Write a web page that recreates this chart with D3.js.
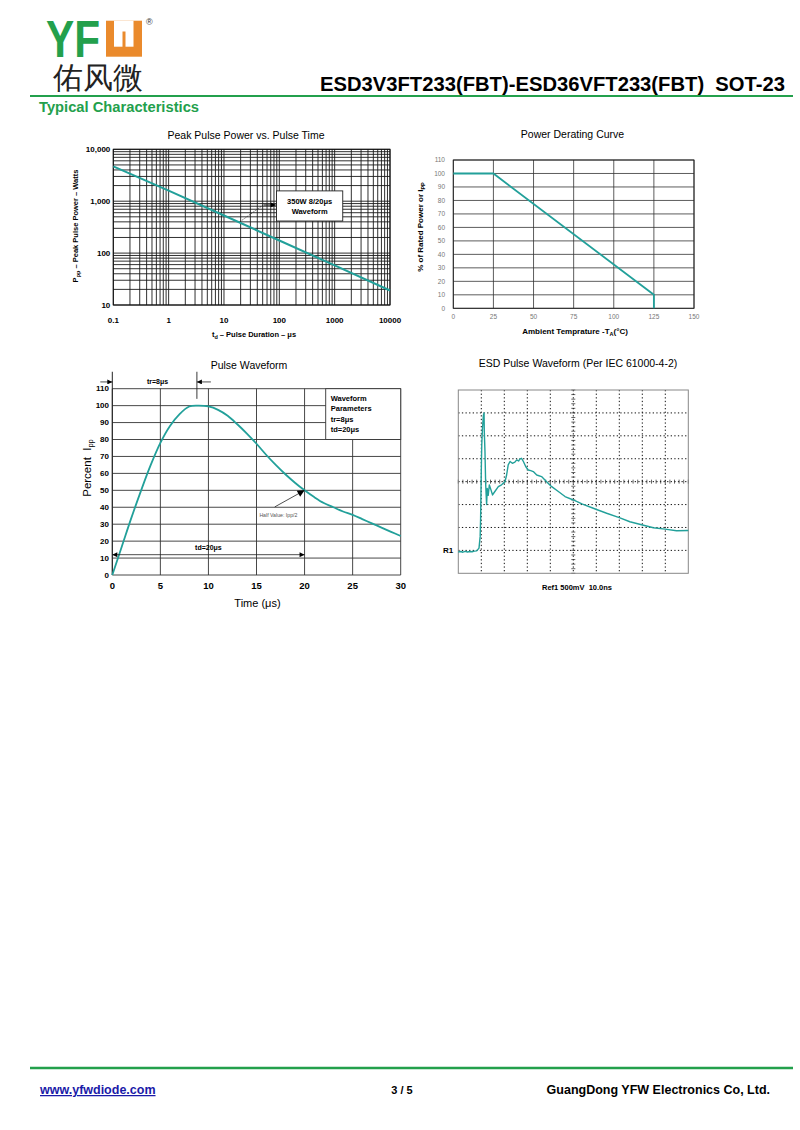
<!DOCTYPE html>
<html>
<head>
<meta charset="utf-8">
<script src="https://cdn.jsdelivr.net/npm/d3@7"></script>
<style>
body { margin: 0; background: #fff; }
svg { display: block; }
text { font-family: "Liberation Sans", Arial, sans-serif; }
</style>
</head>
<body>
<svg id="page" width="800" height="1130"></svg>
<script>
// ---- data ----
// chart 1: peak pulse power vs pulse time (log-log)
const ppTime = [0.1, 1, 10, 100, 1000, 10000];
const ppPower = [4700, 1600, 530, 175, 58, 19];
const ppXTicks = [0.1, 1, 10, 100, 1000, 10000];
const ppXLabels = ["0.1", "1", "10", "100", "1000", "10000"];
const ppYTicks = [10, 100, 1000, 10000];
const ppYLabels = ["10", "100", "1,000", "10,000"];
const ppNoteBox = [89, 1400, 1580, 415];        // x0, x1, yTop, yBottom (data units)
const ppNoteArrow = [[19.5, 403], [51, 845]];  // dashed leader
const ppNoteHead = [[52, 845], [86, 845]];

// chart 2: power derating
const derTemp = [0, 25, 125, 125];
const derPct = [100, 100, 10, 0];
const derXTicks = [0, 25, 50, 75, 100, 125, 150];
const derYTicks = [0, 10, 20, 30, 40, 50, 60, 70, 80, 90, 100, 110];

// chart 3: 8/20us pulse waveform
const pwTime = [0, 1, 2, 3, 4, 5, 6, 7, 8, 9, 10, 11, 12, 13, 14, 15, 16, 17, 18, 19, 20,
                21, 22, 23, 24, 25, 26, 27, 28, 29, 30];
const pwPct = [0, 17, 34, 50, 65, 78, 88, 95, 99.5, 100, 99.5, 97.5, 94, 89, 83.5, 77.5, 71, 65, 59.5, 54.5, 50,
               46, 42.5, 40, 37.5, 35.5, 33, 30.5, 28, 25.5, 23];
const pwXTicks = [0, 5, 10, 15, 20, 25, 30];
const pwYTicks = [0, 10, 20, 30, 40, 50, 60, 70, 80, 90, 100, 110];
const pwLegend = ["Waveform", "Parameters", "tr=8μs", "td=20μs"];
const pwLegendBox = [22.2, 30, 110, 80];

// chart 4: ESD pulse scope trace (divisions)
const esdX = [0, 0.1, 0.2, 0.3, 0.4, 0.5, 0.6, 0.7, 0.8, 0.9, 0.95, 0.97, 1.0, 1.02, 1.05, 1.09, 1.12, 1.13,
              1.16, 1.19, 1.23, 1.26, 1.3, 1.35, 1.42, 1.49, 1.59, 1.74, 1.88, 2.03, 2.1, 2.17, 2.25, 2.35,
              2.46, 2.54, 2.62, 2.68, 2.75, 2.83, 2.93, 3.04, 3.15, 3.26, 3.41, 3.62, 3.84, 4.06, 4.35,
              4.64, 5.0, 5.4, 5.87, 6.45, 7.0, 7.46, 8.01, 8.48, 8.99, 9.49, 10];
const esdY = [0.93, 0.95, 0.92, 0.96, 0.93, 0.95, 0.94, 0.97, 0.98, 1.1, 1.6, 2.4, 4.5, 5.6, 6.3, 6.9, 7.0, 6.2,
              5.3, 3.9, 3.0, 3.7, 3.4, 3.86, 3.64, 3.42, 3.57, 3.78, 3.86, 4.0, 4.29, 4.73, 4.88, 4.8,
              4.85, 4.95, 4.9, 4.99, 5.02, 4.88, 4.66, 4.51, 4.48, 4.44, 4.29, 4.22, 4.0, 3.78, 3.57,
              3.35, 3.2, 3.02, 2.84, 2.62, 2.43, 2.25, 2.11, 1.99, 1.93, 1.86, 1.87];
const esdXDivs = [0, 1, 2, 3, 4, 5, 6, 7, 8, 9, 10];
const esdYDivs = [0, 1, 2, 3, 4, 5, 6, 7, 8];

// ---- page ----
const svg = d3.select("#page");
const teal = "#22a09a", green = "#23a04c", orange = "#ea8a2c";

svg.append("rect").attr("width", 800).attr("height", 1130).attr("fill", "#fff");

const defs = svg.append("defs");
function arrowMarker(id, w, h) {
    defs.append("marker")
        .attr("id", id)
        .attr("viewBox", "0 0 10 10")
        .attr("refX", 10).attr("refY", 5)
        .attr("markerUnits", "userSpaceOnUse")
        .attr("markerWidth", w).attr("markerHeight", h)
        .attr("orient", "auto-start-reverse")
        .append("path").attr("d", "M0,0L10,5L0,10z").attr("fill", "#000");
}
arrowMarker("head", 7, 5);
arrowMarker("headBig", 9, 7);

// header
svg.append("text").attr("x", 46).attr("y", 57)
    .attr("font-size", 52).attr("font-weight", "bold").attr("fill", green)
    .attr("textLength", 54).attr("lengthAdjust", "spacingAndGlyphs")
    .text("YF");
svg.append("rect").attr("x", 106).attr("y", 20.7).attr("width", 36).attr("height", 36).attr("fill", orange);
svg.append("rect").attr("x", 114).attr("y", 20.7).attr("width", 19.5).attr("height", 26).attr("fill", "#fff");
svg.append("rect").attr("x", 122.5).attr("y", 31.5).attr("width", 3).attr("height", 15.5).attr("fill", orange);
svg.append("text").attr("x", 146).attr("y", 25).attr("font-size", 9).attr("fill", "#333").text("®");
svg.append("text").attr("x", 53).attr("y", 88)
    .attr("font-family", "'Noto Sans CJK SC'").attr("font-size", 30).attr("font-weight", 500)
    .attr("fill", "#222").text("佑风微");

svg.append("text").attr("x", 785).attr("y", 90.5)
    .attr("text-anchor", "end").attr("font-size", 19.5).attr("font-weight", "bold")
    .attr("xml:space", "preserve")
    .attr("textLength", 465).attr("lengthAdjust", "spacingAndGlyphs")
    .text("ESD3V3FT233(FBT)-ESD36VFT233(FBT)  SOT-23");
svg.append("line").attr("x1", 30).attr("x2", 793).attr("y1", 96).attr("y2", 96)
    .attr("stroke", green).attr("stroke-width", 2);
svg.append("text").attr("x", 39).attr("y", 111.5)
    .attr("font-size", 14.5).attr("font-weight", "bold").attr("fill", green)
    .attr("textLength", 160).attr("lengthAdjust", "spacingAndGlyphs")
    .text("Typical Characteristics");

// ---- chart 1 ----
const c1 = {left: 113.3, right: 390, top: 149.3, bottom: 305};
const x1 = d3.scaleLog().domain([0.1, 10000]).range([c1.left, c1.right]);
const y1 = d3.scaleLog().domain([10, 10000]).range([c1.bottom, c1.top]);
const g1 = svg.append("g");

g1.selectAll(".vg").data(x1.ticks()).join("line")
    .attr("x1", d => x1(d)).attr("x2", d => x1(d))
    .attr("y1", c1.top).attr("y2", c1.bottom)
    .attr("stroke", "#1a1a1a").attr("stroke-width", 0.9);
g1.selectAll(".hg").data(y1.ticks()).join("line")
    .attr("x1", c1.left).attr("x2", c1.right)
    .attr("y1", d => y1(d)).attr("y2", d => y1(d))
    .attr("stroke", "#1a1a1a").attr("stroke-width", 0.9);
g1.append("rect").attr("x", c1.left).attr("y", c1.top)
    .attr("width", c1.right - c1.left).attr("height", c1.bottom - c1.top)
    .attr("fill", "none").attr("stroke", "#111").attr("stroke-width", 1);

g1.append("path")
    .datum(ppTime.map((t, i) => [t, ppPower[i]]))
    .attr("d", d3.line().x(d => x1(d[0])).y(d => y1(d[1])))
    .attr("fill", "none").attr("stroke", teal).attr("stroke-width", 2);

g1.selectAll(".xl").data(ppXTicks).join("text")
    .attr("x", d => x1(d)).attr("y", 322.5)
    .attr("text-anchor", "middle").attr("font-size", 8).attr("font-weight", "bold")
    .text((d, i) => ppXLabels[i]);
g1.selectAll(".yl").data(ppYTicks).join("text")
    .attr("x", c1.left - 3).attr("y", d => y1(d) + 3)
    .attr("text-anchor", "end").attr("font-size", 8).attr("font-weight", "bold")
    .text((d, i) => ppYLabels[i]);

// note box + leader
g1.append("rect")
    .attr("x", x1(ppNoteBox[0])).attr("y", y1(ppNoteBox[2]))
    .attr("width", x1(ppNoteBox[1]) - x1(ppNoteBox[0]))
    .attr("height", y1(ppNoteBox[3]) - y1(ppNoteBox[2]))
    .attr("fill", "#fff").attr("stroke", "#222").attr("stroke-width", 0.9);
const noteCx = (x1(ppNoteBox[0]) + x1(ppNoteBox[1])) / 2;
g1.append("text").attr("x", noteCx).attr("y", 203.5).attr("text-anchor", "middle")
    .attr("font-size", 7.5).attr("font-weight", "bold").text("350W 8/20μs");
g1.append("text").attr("x", noteCx).attr("y", 213.5).attr("text-anchor", "middle")
    .attr("font-size", 7.5).attr("font-weight", "bold").text("Waveform");
g1.append("line")
    .attr("x1", x1(ppNoteArrow[0][0])).attr("y1", y1(ppNoteArrow[0][1]))
    .attr("x2", x1(ppNoteArrow[1][0])).attr("y2", y1(ppNoteArrow[1][1]))
    .attr("stroke", "#222").attr("stroke-width", 0.7).attr("stroke-dasharray", "1.5,1.2");
g1.append("line")
    .attr("x1", x1(ppNoteHead[0][0])).attr("y1", y1(ppNoteHead[0][1]))
    .attr("x2", x1(ppNoteHead[1][0])).attr("y2", y1(ppNoteHead[1][1]))
    .attr("stroke", "#111").attr("stroke-width", 1).attr("marker-end", "url(#head)");

svg.append("text").attr("x", 246).attr("y", 138.5).attr("text-anchor", "middle")
    .attr("font-size", 10.5).text("Peak Pulse Power vs. Pulse Time");
const xt1 = svg.append("text").attr("x", 254).attr("y", 337).attr("text-anchor", "middle")
    .attr("font-size", 7.5).attr("font-weight", "bold");
xt1.append("tspan").text("t");
xt1.append("tspan").attr("font-size", 5.5).attr("dy", 1.5).text("d");
xt1.append("tspan").attr("dy", -1.5).text(" – Pulse Duration – μs");
const yt1 = svg.append("text").attr("transform", "translate(78,226) rotate(-90)")
    .attr("text-anchor", "middle").attr("font-size", 7.5).attr("font-weight", "bold");
yt1.append("tspan").text("P");
yt1.append("tspan").attr("font-size", 5.5).attr("dy", 1.5).text("pp");
yt1.append("tspan").attr("dy", -1.5).text(" – Peak Pulse Power – Watts");

// ---- chart 2 ----
const c2 = {left: 453.3, right: 694, top: 160, bottom: 308.3};
const x2 = d3.scaleLinear().domain([0, 150]).range([c2.left, c2.right]);
const y2 = d3.scaleLinear().domain([0, 110]).range([c2.bottom, c2.top]);
const g2 = svg.append("g");

g2.selectAll(".vg").data(derXTicks).join("line")
    .attr("x1", d => x2(d)).attr("x2", d => x2(d))
    .attr("y1", c2.top).attr("y2", c2.bottom)
    .attr("stroke", "#333").attr("stroke-width", 0.8);
g2.selectAll(".hg").data(derYTicks).join("line")
    .attr("x1", c2.left).attr("x2", c2.right)
    .attr("y1", d => y2(d)).attr("y2", d => y2(d))
    .attr("stroke", "#333").attr("stroke-width", 0.8);
g2.append("rect").attr("x", c2.left).attr("y", c2.top)
    .attr("width", c2.right - c2.left).attr("height", c2.bottom - c2.top)
    .attr("fill", "none").attr("stroke", "#222").attr("stroke-width", 0.9);

g2.append("path")
    .datum(derTemp.map((t, i) => [t, derPct[i]]))
    .attr("d", d3.line().x(d => x2(d[0])).y(d => y2(d[1])))
    .attr("fill", "none").attr("stroke", teal).attr("stroke-width", 1.8);

g2.selectAll(".xl").data(derXTicks).join("text")
    .attr("x", d => x2(d)).attr("y", 319)
    .attr("text-anchor", "middle").attr("font-size", 6.5).attr("fill", "#777")
    .text(d => d);
g2.selectAll(".yl").data(derYTicks).join("text")
    .attr("x", 445).attr("y", d => y2(d) + 2.3)
    .attr("text-anchor", "end").attr("font-size", 6.5).attr("fill", "#777")
    .text(d => d);

svg.append("text").attr("x", 572.5).attr("y", 138).attr("text-anchor", "middle")
    .attr("font-size", 10.5).text("Power Derating Curve");
const xt2 = svg.append("text").attr("x", 575).attr("y", 334).attr("text-anchor", "middle")
    .attr("font-size", 8).attr("font-weight", "bold");
xt2.append("tspan").text("Ambient Temprature -T");
xt2.append("tspan").attr("font-size", 5.5).attr("dy", 1.5).text("A");
xt2.append("tspan").attr("dy", -1.5).text("(°C)");
const yt2 = svg.append("text").attr("transform", "translate(423,227) rotate(-90)")
    .attr("text-anchor", "middle").attr("font-size", 8).attr("font-weight", "bold");
yt2.append("tspan").text("% of Rated Power or I");
yt2.append("tspan").attr("font-size", 5.5).attr("dy", 1.5).text("PP");

// ---- chart 3 ----
const c3 = {left: 112.3, right: 400.7, top: 388.7, bottom: 575};
const x3 = d3.scaleLinear().domain([0, 30]).range([c3.left, c3.right]);
const y3 = d3.scaleLinear().domain([0, 110]).range([c3.bottom, c3.top]);
const g3 = svg.append("g");
const serif = "'Liberation Serif', 'Times New Roman', serif";

g3.selectAll(".hg").data(pwYTicks).join("line")
    .attr("x1", c3.left).attr("x2", c3.right)
    .attr("y1", d => y3(d)).attr("y2", d => y3(d))
    .attr("stroke", "#333").attr("stroke-width", 0.9);
g3.selectAll(".vg").data(pwXTicks).join("line")
    .attr("x1", d => x3(d)).attr("x2", d => x3(d))
    .attr("y1", c3.top).attr("y2", c3.bottom)
    .attr("stroke", "#333").attr("stroke-width", 0.9);
// y axis reaches up to the tr marker
g3.append("line").attr("x1", x3(0)).attr("x2", x3(0)).attr("y1", y3(120)).attr("y2", c3.bottom)
    .attr("stroke", "#222").attr("stroke-width", 1);

// legend box
g3.append("rect")
    .attr("x", x3(pwLegendBox[0])).attr("y", y3(pwLegendBox[2]))
    .attr("width", x3(pwLegendBox[1]) - x3(pwLegendBox[0]))
    .attr("height", y3(pwLegendBox[3]) - y3(pwLegendBox[2]))
    .attr("fill", "#fff").attr("stroke", "#333").attr("stroke-width", 0.9);
g3.selectAll(".lg").data(pwLegend).join("text")
    .attr("x", x3(pwLegendBox[0]) + 5).attr("y", (d, i) => 401 + i * 10.3)
    .attr("font-family", serif).attr("font-size", 7.5).attr("font-weight", "bold")
    .text(d => d);

g3.append("path")
    .datum(pwTime.map((t, i) => [t, pwPct[i]]))
    .attr("d", d3.line().x(d => x3(d[0])).y(d => y3(d[1])).curve(d3.curveCatmullRom.alpha(0.5)))
    .attr("fill", "none").attr("stroke", teal).attr("stroke-width", 1.8);

g3.selectAll(".xl").data(pwXTicks).join("text")
    .attr("x", d => x3(d)).attr("y", 589)
    .attr("text-anchor", "middle").attr("font-family", "'DejaVu Serif', serif")
    .attr("font-size", 9.5).attr("font-weight", "bold")
    .text(d => d);
g3.selectAll(".yl").data(pwYTicks).join("text")
    .attr("x", 109).attr("y", d => y3(d) + 2.7)
    .attr("text-anchor", "end").attr("font-family", serif)
    .attr("font-size", 8).attr("font-weight", "bold")
    .text(d => d);

// tr annotation
g3.append("line").attr("x1", x3(8.8)).attr("x2", x3(8.8)).attr("y1", y3(120)).attr("y2", y3(104))
    .attr("stroke", "#222").attr("stroke-width", 0.9);
g3.append("line").attr("x1", x3(0) - 12).attr("x2", x3(0)).attr("y1", y3(114)).attr("y2", y3(114))
    .attr("stroke", "#222").attr("stroke-width", 0.8).attr("marker-end", "url(#head)");
g3.append("line").attr("x1", x3(8.8) + 14).attr("x2", x3(8.8)).attr("y1", y3(114)).attr("y2", y3(114))
    .attr("stroke", "#222").attr("stroke-width", 0.8).attr("marker-end", "url(#head)");
g3.append("text").attr("x", 157.5).attr("y", y3(114) + 2.5).attr("text-anchor", "middle")
    .attr("font-family", serif).attr("font-size", 7).attr("font-weight", "bold").text("tr=8μs");

// td annotation
g3.append("line").attr("x1", x3(0)).attr("x2", x3(20)).attr("y1", y3(12)).attr("y2", y3(12))
    .attr("stroke", "#222").attr("stroke-width", 0.8)
    .attr("marker-start", "url(#head)").attr("marker-end", "url(#head)");
g3.append("text").attr("x", x3(10)).attr("y", y3(14.5)).attr("text-anchor", "middle")
    .attr("font-family", serif).attr("font-size", 7).attr("font-weight", "bold").text("td=20μs");

// half value annotation
g3.append("line").attr("x1", x3(16.9)).attr("y1", y3(40.2)).attr("x2", x3(20)).attr("y2", y3(50))
    .attr("stroke", "#222").attr("stroke-width", 0.8).attr("marker-end", "url(#headBig)");
g3.append("text").attr("x", x3(15.3)).attr("y", y3(34.5))
    .attr("font-family", serif).attr("font-size", 5.2).attr("fill", "#555").text("Half Value: Ipp/2");

svg.append("text").attr("x", 249).attr("y", 369).attr("text-anchor", "middle")
    .attr("font-size", 10.5).text("Pulse Waveform");
svg.append("text").attr("x", 257.5).attr("y", 607).attr("text-anchor", "middle")
    .attr("font-size", 11).text("Time (μs)");
const yt3 = svg.append("text").attr("transform", "translate(91,468) rotate(-90)")
    .attr("text-anchor", "middle").attr("font-size", 11.5).attr("xml:space", "preserve");
yt3.append("tspan").text("Percent  I");
yt3.append("tspan").attr("font-size", 7.5).attr("dy", 2).text("pp");

// ---- chart 4 ----
const c4 = {left: 458.3, right: 688.3, top: 390, bottom: 573.3};
const x4 = d3.scaleLinear().domain([0, 10]).range([c4.left, c4.right]);
const y4 = d3.scaleLinear().domain([0, 8]).range([c4.bottom, c4.top]);
const g4 = svg.append("g");

g4.selectAll(".vg").data(esdXDivs.slice(1, -1)).join("line")
    .attr("x1", d => x4(d)).attr("x2", d => x4(d))
    .attr("y1", c4.top).attr("y2", c4.bottom)
    .attr("stroke", "#111").attr("stroke-width", 1).attr("stroke-dasharray", "1.3,2.3");
g4.selectAll(".hg").data(esdYDivs.slice(1, -1)).join("line")
    .attr("x1", c4.left).attr("x2", c4.right)
    .attr("y1", d => y4(d)).attr("y2", d => y4(d))
    .attr("stroke", "#111").attr("stroke-width", 1).attr("stroke-dasharray", "1.3,2.3");
// center line minor ticks
const xMinor4 = x4.ticks(50);
const yMinor4 = y4.ticks(40);
g4.selectAll(".cx").data(xMinor4).join("line")
    .attr("x1", d => x4(d)).attr("x2", d => x4(d))
    .attr("y1", y4(4) - 2).attr("y2", y4(4) + 2)
    .attr("stroke", "#222").attr("stroke-width", 0.7);
g4.selectAll(".cy").data(yMinor4).join("line")
    .attr("x1", x4(5) - 2).attr("x2", x4(5) + 2)
    .attr("y1", d => y4(d)).attr("y2", d => y4(d))
    .attr("stroke", "#222").attr("stroke-width", 0.7);
g4.append("rect").attr("x", c4.left).attr("y", c4.top)
    .attr("width", c4.right - c4.left).attr("height", c4.bottom - c4.top)
    .attr("fill", "none").attr("stroke", "#888").attr("stroke-width", 1);

g4.append("path")
    .datum(esdX.map((t, i) => [t, esdY[i]]))
    .attr("d", d3.line().x(d => x4(d[0])).y(d => y4(d[1])))
    .attr("fill", "none").attr("stroke", teal).attr("stroke-width", 1.4)
    .attr("stroke-linejoin", "round");

g4.append("text").attr("x", c4.left - 5).attr("y", y4(1) + 3).attr("text-anchor", "end")
    .attr("font-size", 8).attr("font-weight", "bold").text("R1");
svg.append("text").attr("x", 578).attr("y", 367).attr("text-anchor", "middle")
    .attr("font-size", 10.5).text("ESD Pulse Waveform (Per IEC 61000-4-2)");
svg.append("text").attr("x", 577).attr("y", 589.5).attr("text-anchor", "middle")
    .attr("font-size", 7.5).attr("font-weight", "bold").attr("xml:space", "preserve")
    .text("Ref1 500mV  10.0ns");

// ---- footer ----
svg.append("line").attr("x1", 30).attr("x2", 793).attr("y1", 1068).attr("y2", 1068)
    .attr("stroke", green).attr("stroke-width", 2.5);
svg.append("text").attr("x", 40).attr("y", 1094)
    .attr("font-size", 12.5).attr("font-weight", "bold").attr("fill", "#1a1aa8")
    .attr("text-decoration", "underline").text("www.yfwdiode.com");
svg.append("text").attr("x", 402).attr("y", 1094).attr("text-anchor", "middle")
    .attr("font-size", 11).attr("font-weight", "bold").text("3 / 5");
svg.append("text").attr("x", 770).attr("y", 1094).attr("text-anchor", "end")
    .attr("font-size", 12.5).attr("font-weight", "bold").text("GuangDong YFW Electronics Co, Ltd.");
</script>
</body>
</html>
